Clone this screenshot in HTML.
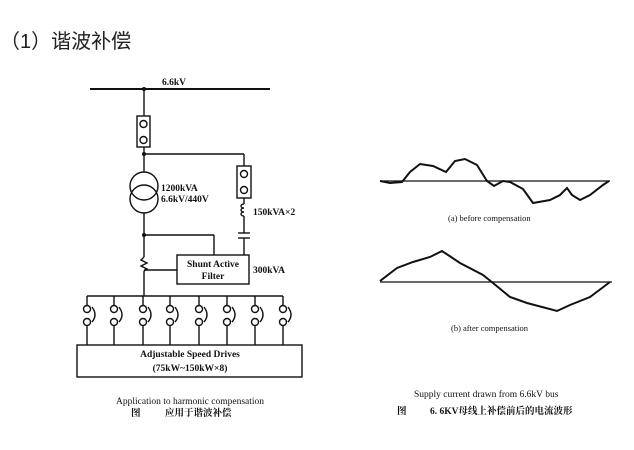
<!DOCTYPE html>
<html><head><meta charset="utf-8"><style>
html,body{margin:0;padding:0;background:#fff;width:634px;height:450px;overflow:hidden}
svg{display:block}
.s{font-family:"Liberation Serif","Noto Serif CJK SC",serif;font-weight:bold;fill:#111}
</style></head><body>
<svg width="634" height="450" viewBox="0 0 634 450" xmlns="http://www.w3.org/2000/svg">
<text x="0" y="48" font-family="Liberation Sans,'Noto Sans CJK SC',sans-serif" font-size="20" fill="#222">（1）谐波补偿</text>
<g stroke="#111" stroke-width="1.4" fill="none">
<line x1="90" y1="89" x2="270" y2="89" stroke-width="2"/>
<line x1="144" y1="89" x2="144" y2="116"/>
<rect x="137" y="116" width="13" height="31"/>
<circle cx="143.5" cy="124" r="3.5"/><circle cx="143.5" cy="140" r="3.5"/>
<line x1="144" y1="147" x2="144" y2="172"/>
<line x1="144" y1="154" x2="244" y2="154"/>
<line x1="244" y1="154" x2="244" y2="166"/>
<rect x="237" y="166" width="14" height="32"/>
<circle cx="244" cy="174" r="3.5"/><circle cx="244" cy="190" r="3.5"/>
<line x1="244" y1="198" x2="244" y2="204"/>
<path d="M244 204 c-4 0 -4 4 0 4 c-4 0 -4 4 0 4 c-4 0 -4 4 0 4"/>
<line x1="244" y1="216" x2="244" y2="233"/>
<line x1="238" y1="233" x2="250" y2="233"/><line x1="238" y1="238" x2="250" y2="238"/>
<line x1="244" y1="238" x2="244" y2="255"/>
<circle cx="144" cy="186" r="14"/><circle cx="144" cy="199" r="14"/>
<line x1="144" y1="213" x2="144" y2="257"/>
<line x1="144" y1="235" x2="214" y2="235"/>
<line x1="214" y1="235" x2="214" y2="255"/>
<path d="M144 257 l-3 3 l6 3 l-6 3 l6 3 l-3 2"/>
<line x1="144" y1="271" x2="144" y2="296"/>
<line x1="144" y1="270" x2="177" y2="270"/>
<rect x="177" y="255" width="72" height="29"/>
<line x1="87" y1="296" x2="283" y2="296"/>
<g id="br">
<line x1="87" y1="296" x2="87" y2="305"/>
<circle cx="87" cy="309" r="3.5"/><circle cx="87" cy="322" r="3.5"/>
<path d="M92 307 q6 8 0 15"/>
<line x1="87" y1="326" x2="87" y2="345"/>
</g>
<use href="#br" x="27"/><use href="#br" x="56"/><use href="#br" x="83"/><use href="#br" x="112"/><use href="#br" x="140"/><use href="#br" x="168"/><use href="#br" x="196"/>
<rect x="77" y="345" width="225" height="32"/>
<line x1="380" y1="181" x2="610" y2="181" stroke-width="1.2"/>
<line x1="380" y1="282" x2="612" y2="282" stroke-width="1.2"/>
<polyline stroke-width="2" points="380,181 390,183 402,182 410,172 420,164 433,166 446,172 455,161 465,159 477,165 487,181 494,186 503,181 510,182 523,189 533,203 550,200 560,195 567,188 572,195 580,200 590,195 603,185 609,181"/>
<polyline stroke-width="2" points="380,281 397,268 413,262 430,257 442,251 460,263 483,275 493,283 510,297 527,303 557,311 570,305 590,297 610,282"/>
</g>
<circle cx="144" cy="89" r="2" fill="#111"/><circle cx="144" cy="154" r="2" fill="#111"/><circle cx="144" cy="235" r="2" fill="#111"/>
<g class="s" font-size="9.5">
<text x="162" y="85">6.6kV</text>
<text x="161" y="191">1200kVA</text>
<text x="161" y="202">6.6kV/440V</text>
<text x="253" y="215">150kVA×2</text>
<text x="213" y="267" text-anchor="middle">Shunt Active</text>
<text x="213" y="279" text-anchor="middle">Filter</text>
<text x="253" y="273">300kVA</text>
<text x="190" y="357" text-anchor="middle">Adjustable Speed Drives</text>
<text x="190" y="371" text-anchor="middle">(75kW~150kW×8)</text>
<text x="116" y="404" font-weight="normal">Application to harmonic compensation</text>
<text x="131" y="416">图</text><text x="165" y="416">应用于谐波补偿</text>
<text x="448" y="221" font-size="8.5" font-weight="normal">(a) before compensation</text>
<text x="451" y="331" font-size="8.5" font-weight="normal">(b) after compensation</text>
<text x="414" y="397" font-weight="normal">Supply current drawn from 6.6kV bus</text>
<text x="397" y="414">图</text><text x="430" y="414">6. 6KV母线上补偿前后的电流波形</text>
</g>
</svg>
</body></html>
